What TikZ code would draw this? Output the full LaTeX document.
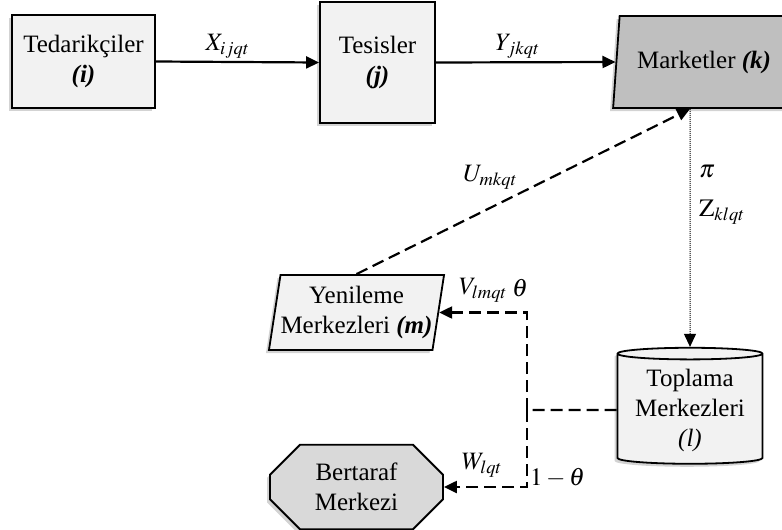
\documentclass[tikz,border=0pt]{standalone}
\usepackage{mathptmx}
\usepackage{fontspec}
\setmainfont{Liberation Serif}
\usetikzlibrary{arrows.meta}
\usetikzlibrary{calc,shapes.geometric,shapes.misc,shadows}

\begin{document}
\begin{tikzpicture}[x=1pt,y=-1pt,
	box/.style={draw,line width=1.8pt,fill=black!5,align=center,
		font=\fontsize{25}{30}\selectfont,
		drop shadow={shadow xshift=-3pt,shadow yshift=-3pt,opacity=0.35}},
	lab/.style={font=\fontsize{25}{30}\selectfont,inner sep=1pt},
	tip/.style={-{Triangle[length=13pt,width=12pt]}},
	flow/.style={line width=2.2pt},
	dsh/.style={line width=2.2pt,dash pattern=on 12pt off 6pt}]
	\useasboundingbox (0,0) rectangle (782,530);
	% Kutular
	\node[box,minimum width=143pt,minimum height=93pt] (ted) at (83.5,61.5) {Tedarikçiler\\\textbf{\textit{(i)}}};
	\node[box,minimum width=115pt,minimum height=121pt] (tes) at (377.5,62.5) {Tesisler\\\textbf{\textit{(j)}}};
	\node[box,trapezium,trapezium left angle=79.5,trapezium right angle=79.5,trapezium stretches=true,
		minimum width=182pt,minimum height=92pt,fill=black!25] (mar) at (704,62) {Marketler \textbf{\textit{(k)}}};
	\node[box,trapezium,trapezium left angle=79,trapezium right angle=101,trapezium stretches=true,
		inner xsep=0pt,minimum width=173pt,minimum height=75pt] (yen) at (356.5,312.5) {Yenileme\\Merkezleri \textbf{\textit{(m)}}};
	\node[box,cylinder,shape border rotate=90,aspect=0.1,minimum width=145pt,minimum height=116pt] (top) at (690,410) {Toplama\\Merkezleri\\\textit{(l)}};
	\node[box,chamfered rectangle,chamfered rectangle xsep=15pt,chamfered rectangle ysep=15pt,
		minimum width=173pt,minimum height=78pt,fill=black!15] (ber) at (356.5,487) {Bertaraf\\Merkezi};
	% Akışlar
	\draw[flow,tip] (ted.east) -- (tes.west) node[midway,above,lab,xshift=-10pt,yshift=2pt] {$X_{ijqt}$};
	\draw[flow,tip] (tes.east) -- (mar.west) node[midway,above,lab,xshift=-8pt,yshift=2pt] {$Y_{jkqt}$};
	\coordinate (mk) at ($(mar.south)+(-14,0)$);
	\draw[dsh,tip] (yen.north) -- (mk) node[midway,above left,lab,xshift=-4pt] {$U_{mkqt}$};
	\draw[densely dotted,line width=1pt,tip] (mk) -- (top.north);
	\node[lab,anchor=west] (pilab) at (698,172) {$\pi$};
	\node[lab,anchor=west] (zlab) at (698,212) {$\mathrm{Z}_{klqt}$};
	\coordinate (sp) at (527,410);
	\draw[dsh] (top.west) -- (sp);
	\draw[dsh,tip] (sp) |- (yen.east);
	\draw[dsh,tip] (sp) |- (ber.east);
	\node[lab] (vlab) at (483,290) {$V_{lmqt}$};
	\node[lab] (thlab) at (520,288) {$\theta$};
	\node[lab] (wlab) at (482,465) {$W_{lqt}$};
	\node[lab,anchor=west] (olab) at (529,478) {$1-\theta$};
\end{tikzpicture}
\end{document}
